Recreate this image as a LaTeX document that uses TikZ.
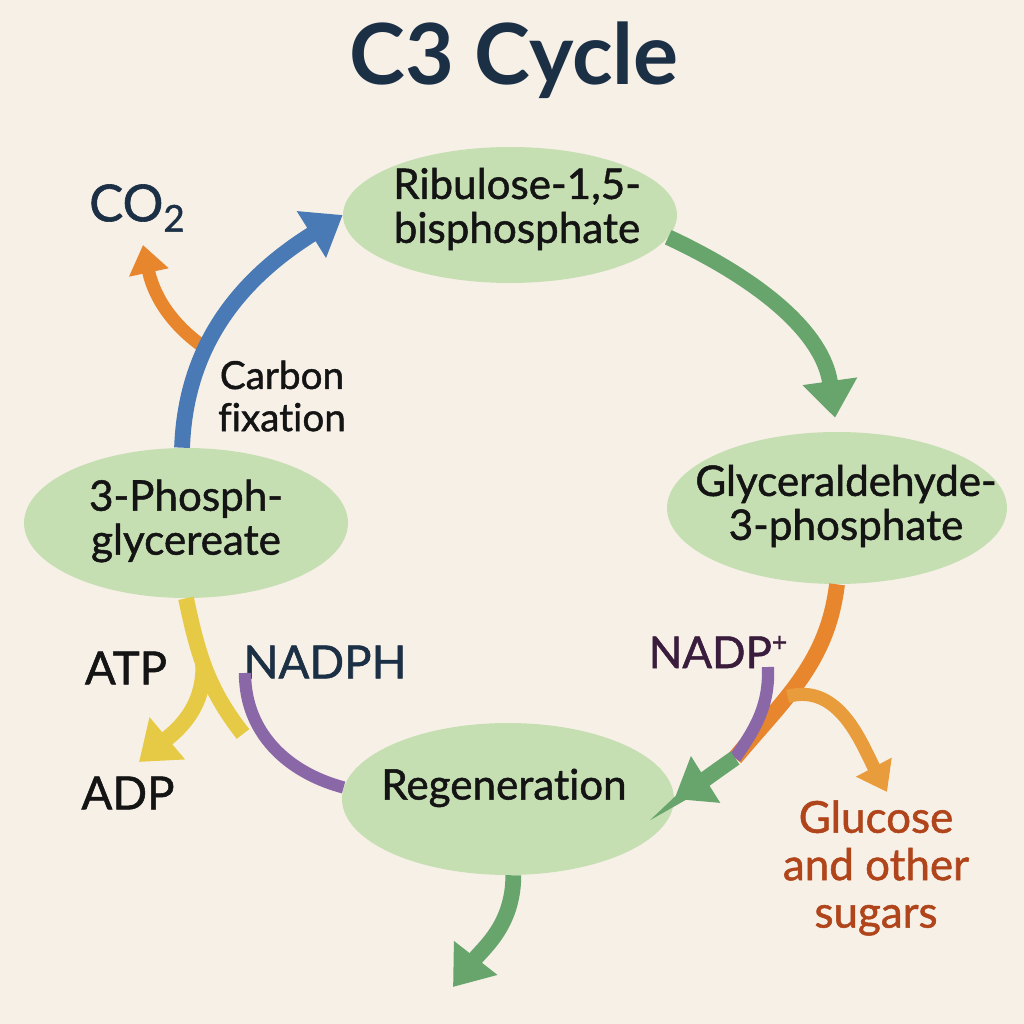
\documentclass[tikz,border=0pt]{standalone}
\usepackage{fontspec}
\setmainfont{Lato}[Ligatures=CommonOff]
\newfontfamily\medfont{Lato}[FakeBold=1.2, Ligatures=CommonOff]
\usetikzlibrary{arrows.meta, shapes.geometric}

\definecolor{paper}{HTML}{F7F0E7}
\definecolor{leaf}{HTML}{C5DFB2}
\definecolor{navy}{HTML}{1B2F45}
\definecolor{ink}{HTML}{141414}
\definecolor{plum}{HTML}{3A1C3C}
\definecolor{rust}{HTML}{B0441A}
\definecolor{cblue}{HTML}{4A7AB5}
\definecolor{cgreen}{HTML}{68A56C}
\definecolor{corange}{HTML}{E8862E}
\definecolor{clight}{HTML}{E99C3C}
\definecolor{cyellow}{HTML}{E6CA45}
\definecolor{cpurple}{HTML}{8A68A8}

\begin{document}
\begin{tikzpicture}[x=0.02cm, y=0.02cm,
    blob/.style={ellipse, fill=leaf, inner sep=0pt},
    lbl/.style={align=center, text=ink, font=\medfont\fontsize{24}{25}\selectfont},
    flow/.style={line width=9pt, -{Triangle[width=30pt, length=21pt]}},
    thin flow/.style={line width=7.5pt, -{Triangle[width=22pt, length=16pt]}},
  ]
  \fill[paper] (0,0) rectangle (1024,1024);

  % title
  \node[text=navy, font=\fontsize{48}{50}\selectfont\bfseries] (title) at (514,964) {C3 Cycle};

  % the four stages
  \node[blob, minimum width=6.68cm, minimum height=2.72cm] (rub) at (510,809) {};
  \node[blob, minimum width=6.8cm, minimum height=3.04cm] (gly) at (837,516) {};
  \node[blob, minimum width=6.64cm, minimum height=3.04cm] (reg) at (508,225) {};
  \node[blob, minimum width=6.48cm, minimum height=3cm] (pga) at (186,501) {};

  \node[lbl] (rubtext) at (517,815) {Ribulose-1,5-\\bisphosphate};
  \node[lbl] (glytext) at (846,518) {Glyceraldehyde-\\3-phosphate};
  \node[lbl] (regtext) at (504,236) {Regeneration};
  \node[lbl] (pgatext) at (186,503) {3-Phosph-\\glycereate};

  % side labels
  \node[lbl, font=\medfont\fontsize{22}{24}\selectfont] (fix) at (282,628) {Carbon\\fixation};
  \node[text=navy, font=\medfont\fontsize{29}{30}\selectfont] (co2) at (137,816)
    {CO\raisebox{-0.4ex}{\fontsize{21}{21}\selectfont 2}};
  \node[lbl, font=\medfont\fontsize{26}{26}\selectfont] (atp) at (126,356) {ATP};
  \node[lbl, font=\medfont\fontsize{26}{26}\selectfont] (adp) at (128,231) {ADP};
  \node[text=navy, font=\medfont\fontsize{26}{26}\selectfont] (nadph) at (325,362) {NADPH};
  \node[text=plum, font=\medfont\fontsize{25}{26}\selectfont] (nadp) at (718,372)
    {NADP\raisebox{0.75ex}{\fontsize{15}{15}\selectfont +}};
  \node[align=center, text=rust, font=\medfont\fontsize{25}{27}\selectfont] (sugar) at (876,156)
    {Glucose\\and other\\sugars};

  % free ends
  \coordinate (cfix) at (205,676);
  \coordinate (co2tip) at (143,779);
  \coordinate (sugtip) at (887,232);
  \coordinate (mg) at (735,266);
  \coordinate (nadptop) at (768,357);
  \coordinate (nphtop) at (245,351);
  \coordinate (ym) at (243,290);
  \coordinate (adptip) at (139,262);
  \coordinate (outtip) at (453,37);

  % CO2 in
  \draw[corange, thin flow] (cfix) to[out=145, in=-78] (co2tip);
  % carbon fixation
  \draw[cblue, flow] (pga.93) to[out=88, in=212] (rub.west);
  % reduction
  \draw[cgreen, flow, shorten >=0.28cm] (rub.-8) to[out=-25, in=98] (gly.north);

  % sugars out
  \draw[corange, line width=9pt] (gly.south) to[out=-97, in=50] coordinate[pos=0.62] (jn) (mg);
  \draw[clight, thin flow] (jn) to[out=15, in=118] (sugtip);
  \draw[cpurple, line width=7pt] (nadptop) to[out=-88, in=55] (mg);
  \draw[cgreen, flow] (mg) to[out=-145, in=32] (reg.east);

  % ATP and NADPH
  \draw[cyellow, line width=9pt] (pga.south) to[out=-78, in=128] coordinate[pos=0.45] (yj) (ym);
  \draw[cyellow, flow] (yj) to[out=-88, in=40] (adptip);
  \draw[cpurple, line width=7pt] (nphtop) to[out=-90, in=165] (reg.176);

  % leaving the cycle
  \draw[cgreen, flow] (reg.-86) to[out=-90, in=52] (outtip);
\end{tikzpicture}
\end{document}
